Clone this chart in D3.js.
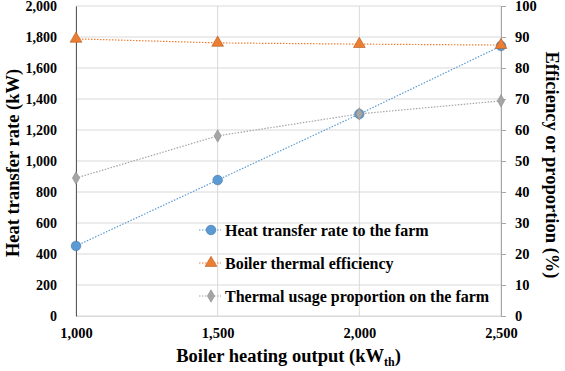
<!DOCTYPE html>
<html>
<script src='https://d3js.org/d3.v7.min.js'></script>
<style>
body { margin: 0; background: white; }
</style>
<body>
<svg width=565 height=371 style="font-family:'Liberation Serif','Times New Roman',serif;font-weight:bold"></svg>
<script>
// boiler output (kWth)
var outputs = [1000, 1500, 2000, 2500];
// heat transfer rate to farm (kW)
var heatRate = [452, 877, 1303, 1742];
// boiler thermal efficiency (%)
var boilerEff = [89.4, 88.1, 87.7, 87.4];
// thermal usage proportion (%)
var usageProp = [44.5, 58.1, 65.2, 69.4];

var xTicks = [1000, 1500, 2000, 2500];
var leftTicks = d3.range(0, 2001, 200);
var rightTicks = d3.range(0, 101, 10);

var svg = d3.select("svg");
var pLeft = 76, pRight = 501, pTop = 6, pBottom = 316;

var x = d3.scaleLinear().domain([1000, 2500]).range([pLeft, pRight]);
var yl = d3.scaleLinear().domain([0, 2000]).range([pBottom, pTop]);
var yr = d3.scaleLinear().domain([0, 100]).range([pBottom, pTop]);
var fmt = d3.format(",");

// grid lines
svg.append("g").selectAll("line").data(leftTicks).enter().append("line")
  .attr("x1", pLeft).attr("x2", pRight)
  .attr("y1", d => yl(d)).attr("y2", d => yl(d))
  .style("stroke", "#d9d9d9").style("stroke-width", 1);
svg.append("g").selectAll("line").data(xTicks).enter().append("line")
  .attr("y1", pTop).attr("y2", pBottom)
  .attr("x1", d => x(d)).attr("x2", d => x(d))
  .style("stroke", "#d9d9d9").style("stroke-width", 1);

// axes
var gb = svg.append("g").attr("transform", "translate(0," + pBottom + ")")
  .call(d3.axisBottom(x).tickValues(xTicks).tickFormat(fmt).tickSize(0).tickPadding(12));
gb.select(".domain").style("stroke", "#d9d9d9");

var gl = svg.append("g").attr("transform", "translate(" + pLeft + ",0)")
  .call(d3.axisLeft(yl).tickValues(leftTicks).tickFormat(fmt).tickSize(0).tickPadding(19));
gl.select(".domain").style("stroke", "#595959");

var gr = svg.append("g").attr("transform", "translate(" + pRight + ",0)")
  .call(d3.axisRight(yr).tickValues(rightTicks).tickSizeInner(5).tickSizeOuter(0).tickPadding(9));
gr.select(".domain").style("stroke", "#a6a6a6");
gr.selectAll(".tick line").style("stroke", "#a6a6a6");

[gl, gr, gb].forEach(function(g) {
  g.attr("font-size", null).attr("font-family", null);
  g.selectAll("text").style("font-size", "14.5px").style("fill", "#000");
});
gl.selectAll("text").style("font-size", "14px");

// series
var series = [
  {name: "Heat transfer rate to the farm", vals: heatRate, y: yl, color: "#5b9bd5", stroke: "#41719c", shape: d3.symbolCircle, size: 72},
  {name: "Boiler thermal efficiency", vals: boilerEff, y: yr, color: "#ed7d31", stroke: "#ae5a21", shape: d3.symbolTriangle, size: 60},
  {name: "Thermal usage proportion on the farm", vals: usageProp, y: yr, color: "#a5a5a5", stroke: "#8c8c8c", shape: d3.symbolDiamond, size: 45}
];

series.forEach(function(s) {
  var pts = outputs.map((o, i) => [o, s.vals[i]]);
  svg.append("path").datum(pts)
    .attr("d", d3.line().x(d => x(d[0])).y(d => s.y(d[1])))
    .style("fill", "none").style("stroke", s.color).style("stroke-width", 1.2)
    .style("stroke-dasharray", "1.5,1.5");
  svg.append("g").selectAll("path").data(pts).enter().append("path")
    .attr("transform", d => "translate(" + x(d[0]) + "," + s.y(d[1]) + ")")
    .attr("d", d3.symbol().type(s.shape).size(s.size))
    .style("fill", s.color).style("stroke", s.stroke).style("stroke-width", 0.6);
});

// legend
var legY = [230, 263, 296];
series.forEach(function(s, i) {
  var g = svg.append("g").attr("transform", "translate(211," + legY[i] + ")");
  g.append("line").attr("x1", -12).attr("x2", 10)
    .style("stroke", s.color).style("stroke-width", 1.2).style("stroke-dasharray", "1.5,1.5");
  g.append("path").attr("d", d3.symbol().type(s.shape).size(s.size))
    .style("fill", s.color).style("stroke", s.stroke).style("stroke-width", 0.6);
  g.append("text").attr("x", 14).attr("dy", "0.35em")
    .style("font-size", "16px").text(s.name);
});

// axis titles
svg.append("text")
  .attr("transform", "translate(19," + ((pTop + pBottom) / 2 + 2) + ") rotate(-90)")
  .attr("text-anchor", "middle").style("font-size", "18.5px")
  .text("Heat transfer rate (kW)");

svg.append("text")
  .attr("transform", "translate(546," + ((pTop + pBottom) / 2 + 4) + ") rotate(90)")
  .attr("text-anchor", "middle").style("font-size", "18.5px")
  .text("Efficiency or proportion (%)");

var xt = svg.append("text")
  .attr("x", (pLeft + pRight) / 2).attr("y", 362)
  .attr("text-anchor", "middle").style("font-size", "18.5px");
xt.append("tspan").text("Boiler heating output (kW");
xt.append("tspan").attr("dy", 4).style("font-size", "12px").text("th");
xt.append("tspan").attr("dy", -4).text(")");
</script>
</body>
</html>
